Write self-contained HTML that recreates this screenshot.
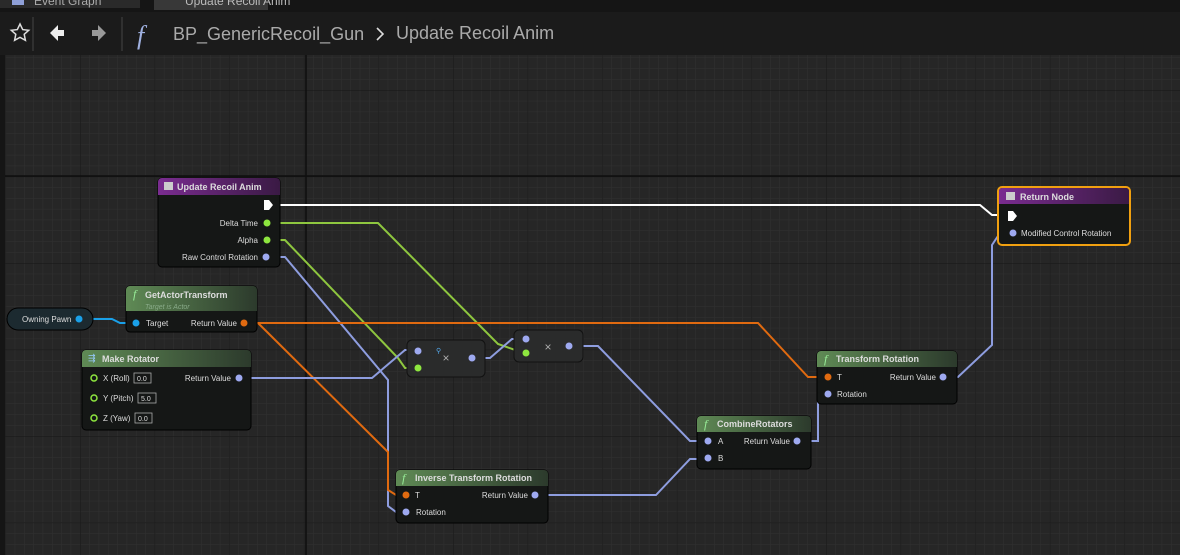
<!DOCTYPE html>
<html><head><meta charset="utf-8"><style>
body{margin:0;width:1180px;height:555px;overflow:hidden;background:#262626;font-family:"Liberation Sans",sans-serif}
svg{position:absolute;left:0;top:0}
text{font-family:"Liberation Sans",sans-serif}
</style></head><body>
<svg width="1180" height="555" viewBox="0 0 1180 555">
<defs>
<pattern id="minor" width="9.325" height="10.81" patternUnits="userSpaceOnUse" x="5.4" y="3.5">
<path d="M0 0H9.325M0 0V10.81" stroke="#313131" stroke-width="1" fill="none"/></pattern>
<pattern id="major" width="74.6" height="86.5" patternUnits="userSpaceOnUse" x="5.4" y="3.5">
<path d="M0 0H74.6M0 0V86.5" stroke="#1a1a1a" stroke-width="1.2" fill="none"/></pattern>
<linearGradient id="pur" x1="0" y1="0" x2="1" y2="0"><stop offset="0" stop-color="#7a2c90"/><stop offset="1" stop-color="#3a1a44"/></linearGradient>
<linearGradient id="grn" x1="0" y1="0" x2="1" y2="0"><stop offset="0" stop-color="#5f8a55"/><stop offset="1" stop-color="#2c3a2c"/></linearGradient>
</defs>
<rect width="1180" height="555" fill="#262626"/>
<rect x="5" y="55" width="1175" height="500" fill="url(#minor)"/>
<rect x="5" y="55" width="1175" height="500" fill="url(#major)"/>
<line x1="306" y1="55" x2="306" y2="555" stroke="#0e0e0e" stroke-width="1.5"/>
<line x1="5" y1="176" x2="1180" y2="176" stroke="#0e0e0e" stroke-width="1.5"/>
<rect x="0" y="55" width="5" height="500" fill="#151515"/>
<!-- tabs -->
<rect x="0" y="0" width="1180" height="12" fill="#151515"/>
<rect x="0" y="0" width="140" height="8" fill="#2a2a2a"/>
<rect x="12" y="0" width="12" height="5" fill="#8fa0d8"/>
<text x="34" y="5" font-size="12" fill="#aaa">Event Graph</text>
<rect x="154" y="0" width="114" height="10" fill="#383838"/>
<text x="185" y="5" font-size="12" fill="#bbb">Update Recoil Anim</text>
<rect x="0" y="12" width="1180" height="43" fill="#1b1b1b"/>
<path d="M20 24l2.7 5.6 6 .7-4.5 4 1.2 6-5.4-3-5.4 3 1.2-6-4.5-4 6-.7z" fill="none" stroke="#ddd" stroke-width="1.5"/>
<line x1="33" y1="17" x2="33" y2="51" stroke="#444"/>
<path d="M50 33l8-8v5h6v6h-6v5z" fill="#eee"/>
<path d="M106 33l-8-8v5h-6v6h6v5z" fill="#999"/>
<line x1="122" y1="17" x2="122" y2="51" stroke="#444"/>
<text x="137" y="44" font-size="26" font-style="italic" fill="#9fb0e0" style="font-family:'Liberation Serif',serif">f</text>
<text x="173" y="40" font-size="18" fill="#aaa">BP_GenericRecoil_Gun</text>
<path d="M377 28l6 6-6 6" stroke="#ddd" stroke-width="1.6" fill="none"/>
<text x="396" y="39" font-size="18" fill="#aaa">Update Recoil Anim</text>

<!-- wires -->
<g fill="none" stroke-width="2">
<path d="M272 205H980L992 215H1010" stroke="#fff"/>
<path d="M274 223H378L498 344 518 351" stroke="#8ec63f"/>
<path d="M272 240H285L398 358 405 368H417" stroke="#8ec63f"/>
<path d="M270 257H285L388 380V506L396 512H406" stroke="#8e9ddf"/>
<path d="M250 323H758L808 377H826" stroke="#e06a10"/>
<path d="M258 323L388 452V490L396 495H406" stroke="#e06a10"/>
<path d="M244 378H372L405 350H417" stroke="#8e9ddf"/>
<path d="M476 358H490L512 339H526" stroke="#8e9ddf"/>
<path d="M572 346H598L690 441H706" stroke="#8e9ddf"/>
<path d="M540 495H656L690 459H706" stroke="#8e9ddf"/>
<path d="M802 441H818V400L826 394" stroke="#8e9ddf"/>
<path d="M946 377H958L992 345V245L1000 233H1012" stroke="#8e9ddf"/>
<path d="M93 319H112L120 323H134" stroke="#1aa0e8"/>
</g>

<g font-size="8" fill="#ddd">
<rect x="158" y="178" width="122" height="89" rx="4" fill="#151716" stroke="#000"/>
<path d="M162 178h114a4 4 0 0 1 4 4v13H158v-13a4 4 0 0 1 4-4z" fill="url(#pur)"/>
<rect x="164" y="182" width="9" height="8" fill="#ccc"/>
<text x="177" y="190" font-size="9" font-weight="bold">Update Recoil Anim</text>
<path d="M264 200h5l4 5-4 5h-5z" fill="#fff"/>
<text x="258" y="226" text-anchor="end">Delta Time</text><circle cx="267" cy="223" r="3.5" fill="#8ee63f"/>
<text x="258" y="243" text-anchor="end">Alpha</text><circle cx="267" cy="240" r="3.5" fill="#8ee63f"/>
<text x="258" y="260" text-anchor="end">Raw Control Rotation</text><circle cx="266" cy="257" r="3.5" fill="#9ea9f0"/>

<rect x="998" y="187" width="132" height="58" rx="4" fill="#151716" stroke="#f0a010" stroke-width="2"/>
<path d="M1002 188h124a3 3 0 0 1 3 3v13H999v-13a3 3 0 0 1 3-3z" fill="url(#pur)"/>
<rect x="1006" y="192" width="9" height="8" fill="#ccc"/>
<text x="1020" y="200" font-size="9" font-weight="bold">Return Node</text>
<path d="M1008 211h5l4 5-4 5h-5z" fill="#fff"/>
<circle cx="1013" cy="233" r="3.5" fill="#9ea9f0"/><text x="1021" y="236">Modified Control Rotation</text>

<rect x="7" y="308" width="86" height="22" rx="11" fill="#1c2a30" stroke="#000"/>
<text x="22" y="322">Owning Pawn</text><circle cx="79" cy="319" r="3.5" fill="#1aa0e8"/>

<rect x="126" y="286" width="131" height="46" rx="4" fill="#151716" stroke="#000"/>
<path d="M130 286h123a4 4 0 0 1 4 4v21H126v-21a4 4 0 0 1 4-4z" fill="url(#grn)"/>
<text x="133" y="298" font-size="12" font-style="italic" fill="#9e9" style="font-family:'Liberation Serif',serif">f</text>
<text x="145" y="298" font-size="9" font-weight="bold">GetActorTransform</text>
<text x="145" y="309" font-size="7" font-style="italic" fill="#8a8">Target is Actor</text>
<circle cx="136" cy="323" r="3.5" fill="#1aa0e8"/><text x="146" y="326">Target</text>
<text x="237" y="326" text-anchor="end">Return Value</text><circle cx="244" cy="323" r="3.5" fill="#e06a10"/>

<rect x="82" y="350" width="169" height="80" rx="4" fill="#151716" stroke="#000"/>
<path d="M86 350h161a4 4 0 0 1 4 4v13H82v-13a4 4 0 0 1 4-4z" fill="url(#grn)"/>
<text x="88" y="361" font-size="9" fill="#9cf">⇶</text>
<text x="102" y="362" font-size="9" font-weight="bold">Make Rotator</text>
<circle cx="94" cy="378" r="3" fill="none" stroke="#8ee63f" stroke-width="1.5"/><text x="103" y="381">X (Roll)</text>
<rect x="134" y="373" width="17" height="10" fill="none" stroke="#aaa" stroke-width=".8"/><text x="137" y="381" font-size="7">0.0</text>
<circle cx="94" cy="398" r="3" fill="none" stroke="#8ee63f" stroke-width="1.5"/><text x="103" y="401">Y (Pitch)</text>
<rect x="138" y="393" width="18" height="10" fill="none" stroke="#aaa" stroke-width=".8"/><text x="141" y="401" font-size="7">5.0</text>
<circle cx="94" cy="418" r="3" fill="none" stroke="#8ee63f" stroke-width="1.5"/><text x="103" y="421">Z (Yaw)</text>
<rect x="135" y="413" width="17" height="10" fill="none" stroke="#aaa" stroke-width=".8"/><text x="138" y="421" font-size="7">0.0</text>
<text x="231" y="381" text-anchor="end">Return Value</text><circle cx="239" cy="378" r="3.5" fill="#9ea9f0"/>

<rect x="407" y="340" width="78" height="37" rx="5" fill="#2a2b2b" stroke="#111"/>
<circle cx="418" cy="351" r="3.5" fill="#9ea9f0"/><circle cx="418" cy="368" r="3.5" fill="#8ee63f"/>
<text x="446" y="362" font-size="12" fill="#aaa" text-anchor="middle">×</text>
<text x="436" y="353" font-size="7" fill="#5ae">⚲</text>
<circle cx="472" cy="358" r="3.5" fill="#9ea9f0"/>
<rect x="514" y="330" width="69" height="32" rx="5" fill="#2a2b2b" stroke="#111"/>
<circle cx="526" cy="339" r="3.5" fill="#9ea9f0"/><circle cx="526" cy="353" r="3.5" fill="#8ee63f"/>
<text x="548" y="351" font-size="12" fill="#aaa" text-anchor="middle">×</text>
<circle cx="569" cy="346" r="3.5" fill="#9ea9f0"/>

<rect x="396" y="470" width="152" height="53" rx="4" fill="#151716" stroke="#000"/>
<path d="M400 470h144a4 4 0 0 1 4 4v12H396v-12a4 4 0 0 1 4-4z" fill="url(#grn)"/>
<text x="402" y="482" font-size="12" font-style="italic" fill="#9e9" style="font-family:'Liberation Serif',serif">f</text>
<text x="415" y="481" font-size="9" font-weight="bold">Inverse Transform Rotation</text>
<circle cx="406" cy="495" r="3.5" fill="#e06a10"/><text x="415" y="498">T</text>
<circle cx="406" cy="512" r="3.5" fill="#9ea9f0"/><text x="416" y="515">Rotation</text>
<text x="528" y="498" text-anchor="end">Return Value</text><circle cx="535" cy="495" r="3.5" fill="#9ea9f0"/>

<rect x="697" y="416" width="114" height="53" rx="4" fill="#151716" stroke="#000"/>
<path d="M701 416h106a4 4 0 0 1 4 4v12H697v-12a4 4 0 0 1 4-4z" fill="url(#grn)"/>
<text x="704" y="428" font-size="12" font-style="italic" fill="#9e9" style="font-family:'Liberation Serif',serif">f</text>
<text x="717" y="427" font-size="9" font-weight="bold">CombineRotators</text>
<circle cx="708" cy="441" r="3.5" fill="#9ea9f0"/><text x="718" y="444">A</text>
<circle cx="708" cy="458" r="3.5" fill="#9ea9f0"/><text x="718" y="461">B</text>
<text x="790" y="444" text-anchor="end">Return Value</text><circle cx="797" cy="441" r="3.5" fill="#9ea9f0"/>

<rect x="817" y="351" width="140" height="53" rx="4" fill="#151716" stroke="#000"/>
<path d="M821 351h132a4 4 0 0 1 4 4v12H817v-12a4 4 0 0 1 4-4z" fill="url(#grn)"/>
<text x="824" y="363" font-size="12" font-style="italic" fill="#9e9" style="font-family:'Liberation Serif',serif">f</text>
<text x="836" y="362" font-size="9" font-weight="bold">Transform Rotation</text>
<circle cx="828" cy="377" r="3.5" fill="#e06a10"/><text x="837" y="380">T</text>
<circle cx="828" cy="394" r="3.5" fill="#9ea9f0"/><text x="837" y="397">Rotation</text>
<text x="936" y="380" text-anchor="end">Return Value</text><circle cx="943" cy="377" r="3.5" fill="#9ea9f0"/>
</g>
</svg>
</body></html>
